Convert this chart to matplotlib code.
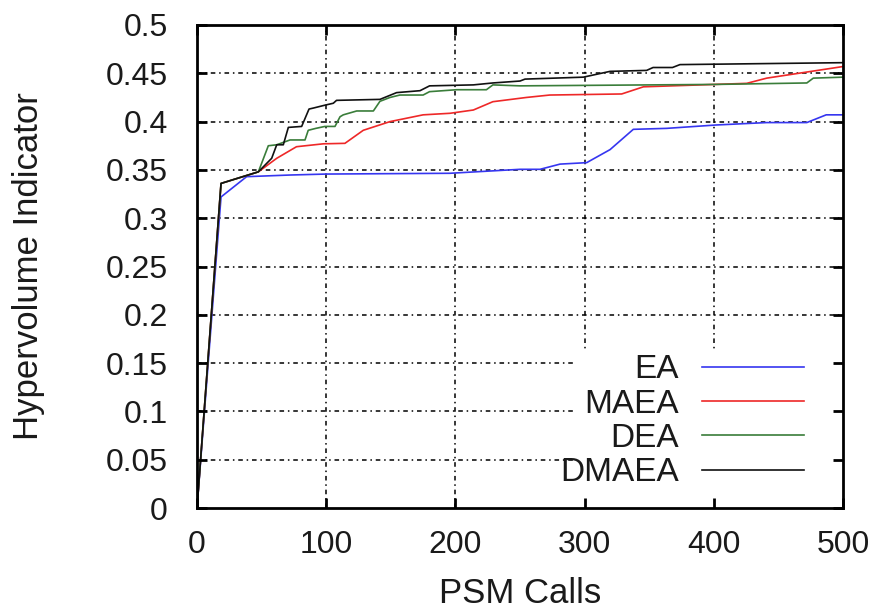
import matplotlib
matplotlib.use("Agg")
import matplotlib.pyplot as plt
from matplotlib.patches import Rectangle

# ---- data ----
ea_x = [0, 18.6, 38.4, 72, 100, 195.8, 250, 265.5, 281, 301.6, 319.7, 337.7, 363.5, 402, 441, 472, 487, 500]
ea_y = [0, 0.322, 0.343, 0.3447, 0.3457, 0.3465, 0.3506, 0.3506, 0.356, 0.3575, 0.371, 0.392, 0.393, 0.3965, 0.399, 0.399, 0.407, 0.407]

maea_x = [0, 18.6, 47.5, 61.7, 77, 97.8, 114.5, 128.7, 149.4, 175, 195.8, 213.9, 229, 255, 273, 328.7, 345.5, 425.5, 441, 500]
maea_y = [0, 0.336, 0.348, 0.362, 0.374, 0.377, 0.3775, 0.391, 0.400, 0.407, 0.4086, 0.412, 0.4206, 0.425, 0.4275, 0.4286, 0.436, 0.4396, 0.445, 0.457]

dea_x = [0, 18.6, 47.5, 55.2, 61.7, 72, 83.6, 86.1, 92, 99, 106.8, 110.7, 113.2, 123.6, 136.5, 141.6, 149.4, 157, 175, 180, 201, 224, 229, 250, 402, 472, 477, 500]
dea_y = [0, 0.336, 0.348, 0.375, 0.376, 0.381, 0.381, 0.391, 0.393, 0.395, 0.395, 0.405, 0.407, 0.411, 0.411, 0.421, 0.425, 0.4275, 0.4275, 0.431, 0.433, 0.433, 0.438, 0.437, 0.4385, 0.440, 0.445, 0.446]

dmaea_x = [0, 18.6, 47.5, 57.8, 61.7, 66.8, 70.7, 81, 86.7, 90, 99, 105.5, 108, 141.6, 154.5, 172.6, 180, 213.9, 229, 250, 253.9, 299, 319.7, 348, 353, 368, 373.8, 500]
dmaea_y = [0, 0.336, 0.348, 0.362, 0.376, 0.376, 0.394, 0.395, 0.413, 0.414, 0.417, 0.419, 0.422, 0.423, 0.430, 0.432, 0.437, 0.438, 0.440, 0.442, 0.444, 0.446, 0.452, 0.453, 0.456, 0.456, 0.459, 0.461]

series_names = ["EA", "MAEA", "DEA", "DMAEA"]
x_ticks = [0, 100, 200, 300, 400, 500]
y_ticks = [0, 0.05, 0.1, 0.15, 0.2, 0.25, 0.3, 0.35, 0.4, 0.45, 0.5]
y_tick_labels = ["0", "0.05", "0.1", "0.15", "0.2", "0.25", "0.3", "0.35", "0.4", "0.45", "0.5"]

plt.rcParams['font.family'] = ['Liberation Sans', 'DejaVu Sans']
FS = 23
LFS = 25
TXT = '#1a1a1a'

fig = plt.figure(figsize=(8.84, 6.11), dpi=100)
ax = fig.add_axes([197/884, 103/611, 646/884, 483/611])

colors = ['#3636f0', '#ee2828', '#3a7d3a', '#111111']
data = [(ea_x, ea_y), (maea_x, maea_y), (dea_x, dea_y), (dmaea_x, dmaea_y)]
for (xs, ys), c, name in zip(data, colors, series_names):
    ax.plot(xs, ys, color=c, lw=1.2, label=name, zorder=2)

ax.set_xlim(0, 500)
ax.set_ylim(0, 0.5)

# grid (manual so the legend background can cover it)
for xv in x_ticks[1:-1]:
    ax.axvline(xv, color='black', lw=1.1, dashes=(3, 2.5, 1, 2.5), zorder=1)
for yv in y_ticks[1:-1]:
    ax.axhline(yv, color='black', lw=1.1, dashes=(3, 2.5, 1, 2.5), zorder=1)

# white legend background area
ax.add_patch(Rectangle((0.585, 0.0), 0.415, 0.323, transform=ax.transAxes,
                       facecolor='white', edgecolor='none', zorder=3))

ax.set_xticks(x_ticks)
ax.set_yticks(y_ticks)
ax.set_yticklabels(y_tick_labels)
ax.tick_params(direction='in', length=7, width=2, top=True, right=True,
               labelsize=FS, color='black', labelcolor=TXT)
ax.tick_params(axis='x', pad=16)
ax.tick_params(axis='y', pad=21)
ax.xaxis.set_zorder(4)
ax.yaxis.set_zorder(4)
for sp in ax.spines.values():
    sp.set_linewidth(2)
    sp.set_zorder(4)

ax.set_xlabel("PSM Calls", fontsize=LFS, labelpad=12, color=TXT)
ax.set_ylabel("Hypervolume Indicator", fontsize=LFS, labelpad=44, color=TXT)

leg = ax.legend(loc='upper right', bbox_to_anchor=(0.9396, 0.318), frameon=False,
                markerfirst=False, fontsize=24, handlelength=3.05, handletextpad=0.7,
                labelspacing=0.1, borderpad=0, borderaxespad=0)
for t in leg.get_texts():
    t.set_color(TXT)
leg.set_zorder(3.5)

fig.savefig("out.png", dpi=100)
